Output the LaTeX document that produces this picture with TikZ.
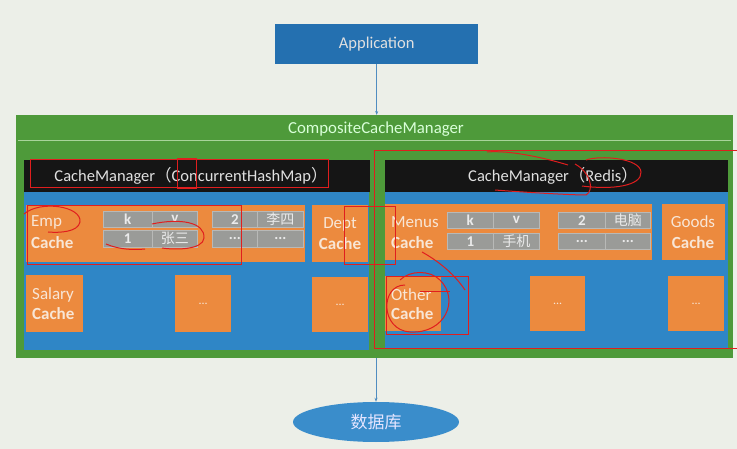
\documentclass[tikz,border=0pt]{standalone}
\usepackage{fontspec}
\setmainfont{Carlito}
\newfontfamily\cjk{Noto Sans CJK SC}
\usetikzlibrary{arrows.meta,shapes.geometric}
\definecolor{bgc}{HTML}{ECEFE8}
\definecolor{appblue}{HTML}{2470B0}
\definecolor{gr}{HTML}{4E9A3A}
\definecolor{grline}{HTML}{A8D49A}
\definecolor{hdr}{HTML}{151515}
\definecolor{body}{HTML}{2F86C6}
\definecolor{org}{HTML}{EC8A3E}
\definecolor{cell}{HTML}{9A9B98}
\definecolor{dbc}{HTML}{3A8DCB}
\definecolor{txtl}{HTML}{F8E6D6}
\definecolor{ann}{HTML}{E01E1E}
\tikzset{
  rbox/.style={draw=none, inner sep=0pt, anchor=north west},
  cellbox/.style={rbox, fill=cell, draw=cell!70!white, line width=0.6pt, text=white!92!black, font=\fontsize{15}{15}\selectfont\bfseries},
  orgbox/.style={rbox, fill=org},
  ctxt/.style={text=txtl, inner sep=0pt, font=\fontsize{17}{17}\selectfont},
  btxt/.style={text=txtl, inner sep=0pt, font=\fontsize{17}{17}\selectfont\bfseries},
  htxt/.style={text=white!88!black, inner sep=0pt, font=\fontsize{16.5}{16.5}\selectfont},
  dots/.style={text=txtl, font=\fontsize{12}{12}\selectfont},
  arr/.style={draw=appblue!80!white, line width=0.6pt, -{Stealth[length=4pt,width=3pt]}},
  annot/.style={draw=ann, line width=1pt}
}
\newcommand{\zh}[1]{{\mdseries\cjk\fontsize{14}{14}\selectfont #1}}
\begin{document}
\begin{tikzpicture}[x=1pt,y=-1pt]
\useasboundingbox[fill=bgc] (0,0) rectangle (737,449);
% Application
\node[rbox, fill=appblue, minimum width=203pt, minimum height=40pt] (app) at (275,24) {};
\node[htxt] (apptxt) at (app.center) {Application};
% Composite
\node[rbox, fill=gr, minimum width=717pt, minimum height=243pt] (comp) at (16,115) {};
\node[htxt, text=white!85!green, font=\fontsize{16.8}{16.8}\selectfont] (comptxt) at (376,129) {CompositeCacheManager};
\coordinate (sepL) at (18,141);
\coordinate (sepR) at (731,141);
\draw[grline, line width=1pt] (sepL) -- (sepR);
\draw[arr] (app.south) -- (app.south |- comp.north);
% Left cache manager
\node[rbox, fill=hdr, minimum width=346pt, minimum height=32pt] (lh) at (24,160) {};
\node[rbox, fill=body, minimum width=345pt, minimum height=158pt] (lb) at (24,192) {};
\node[htxt] (lht) at (191,176) {CacheManager{\cjk （}ConcurrentHashMap{\cjk ）}};
% Right cache manager
\node[rbox, fill=hdr, minimum width=343pt, minimum height=32pt] (rh) at (385,160) {};
\node[rbox, fill=body, minimum width=343pt, minimum height=156pt] (rb) at (385,192) {};
\node[htxt] (rht) at (553,176) {CacheManager{\cjk （}Redis{\cjk ）}};
% Left caches
\node[orgbox, minimum width=279pt, minimum height=57pt] (emp) at (26,205) {};
\node[ctxt, anchor=west] (empa) at (31,222) {Emp};
\node[btxt, anchor=west] (empb) at (31,243) {Cache};
\node[cellbox, minimum width=49pt, minimum height=16pt] (c1) at (103,211) {k};
\node[cellbox, minimum width=45pt, minimum height=16pt] (c2) at (152,211) {v};
\node[cellbox, minimum width=45pt, minimum height=16pt] (c3) at (212,211) {2};
\node[cellbox, minimum width=46pt, minimum height=16pt] (c4) at (257,211) {\zh{李四}};
\node[cellbox, minimum width=49pt, minimum height=17pt] (c5) at (103,230) {1};
\node[cellbox, minimum width=45pt, minimum height=17pt] (c6) at (152,230) {\zh{张三}};
\node[cellbox, minimum width=45pt, minimum height=17pt] (c7) at (212,230) {...};
\node[cellbox, minimum width=46pt, minimum height=17pt] (c8) at (257,230) {...};
\node[orgbox, minimum width=56pt, minimum height=57pt] (dept) at (312,205) {};
\node[ctxt] (depta) at (340,224) {Dept};
\node[btxt] (deptb) at (340,244) {Cache};
\node[orgbox, minimum width=57pt, minimum height=57pt] (sal) at (26,275) {};
\node[ctxt, anchor=west] (sala) at (32,295) {Salary};
\node[btxt, anchor=west] (salb) at (32,314) {Cache};
\node[orgbox, minimum width=56pt, minimum height=57pt] (ld1) at (175,275) {};
\node[dots] (ld1t) at (ld1.center) {...};
\node[orgbox, minimum width=56pt, minimum height=55pt] (ld2) at (312,277) {};
\node[dots] (ld2t) at (ld2.center) {...};
% Right caches
\node[orgbox, minimum width=267pt, minimum height=56pt] (men) at (385,204) {};
\node[ctxt, anchor=west] (mena) at (391,222) {Menus};
\node[btxt, anchor=west] (menb) at (391,243) {Cache};
\node[cellbox, minimum width=46pt, minimum height=16pt] (d1) at (447,212) {k};
\node[cellbox, minimum width=46pt, minimum height=16pt] (d2) at (493,212) {v};
\node[cellbox, minimum width=47pt, minimum height=16pt] (d3) at (558,212) {2};
\node[cellbox, minimum width=45pt, minimum height=16pt] (d4) at (605,212) {\zh{电脑}};
\node[cellbox, minimum width=46pt, minimum height=16pt] (d5) at (447,233) {1};
\node[cellbox, minimum width=46pt, minimum height=16pt] (d6) at (493,233) {\zh{手机}};
\node[cellbox, minimum width=47pt, minimum height=16pt] (d7) at (558,233) {...};
\node[cellbox, minimum width=45pt, minimum height=16pt] (d8) at (605,233) {...};
\node[orgbox, minimum width=63pt, minimum height=56pt] (goods) at (662,204) {};
\node[ctxt] (goodsa) at (693,222) {Goods};
\node[btxt] (goodsb) at (693,243) {Cache};
\node[orgbox, minimum width=56pt, minimum height=55pt] (oth) at (385,276) {};
\node[ctxt, anchor=west] (otha) at (391,295) {Other};
\node[btxt, anchor=west] (othb) at (391,314) {Cache};
\node[orgbox, minimum width=55pt, minimum height=55pt] (rd1) at (530,276) {};
\node[dots] (rd1t) at (rd1.center) {...};
\node[orgbox, minimum width=56pt, minimum height=55pt] (rd2) at (668,276) {};
\node[dots] (rd2t) at (rd2.center) {...};
% Database
\node[ellipse, fill=dbc, minimum width=166pt, minimum height=40pt, inner sep=0pt] (db) at (376,422) {};
\node[text=white!90!blue, font=\fontsize{17}{17}\selectfont\cjk] (dbt) at (db.center) {数据库};
\draw[arr] (db.north |- comp.south) -- (db.north);
% Red hand annotations
\draw[annot] (30,160) rectangle (328,188);
\draw[annot] (177,159) rectangle (196,189);
\draw[annot] (27,206) rectangle (241,265);
\draw[annot] (24,214) .. controls (40,200) and (82,206) .. (80,222) .. controls (78,232) and (60,233) .. (48,232);
\draw[annot] (152,224) .. controls (180,218) and (205,222) .. (204,238) .. controls (203,250) and (175,250) .. (162,248);
\draw[annot] (106,244) .. controls (120,250) and (135,250) .. (145,249);
\draw[annot] (344,207) rectangle (395,265);
\draw[annot] (374,151) -- (737,151);
\draw[annot] (374,151) -- (374,349) -- (737,349);
\draw[annot] (586,160) .. controls (600,155) and (640,158) .. (641,172) .. controls (642,186) and (612,190) .. (582,186);
\draw[annot] (575,164) .. controls (590,172) and (595,190) .. (586,195) .. controls (570,195) and (520,192) .. (495,190);
\draw[annot] (487,152) .. controls (510,150) and (545,158) .. (568,165);
\draw[annot] (386,277) rectangle (468,335);
\draw[annot] (405,285) .. controls (380,285) and (380,330) .. (410,332) .. controls (445,334) and (460,300) .. (440,280) .. controls (430,270) and (410,270) .. (400,280);
\draw[annot] (420,292) -- (450,292);
\draw[annot] (422,252) .. controls (440,262) and (455,275) .. (465,290);
\end{tikzpicture}
\end{document}
